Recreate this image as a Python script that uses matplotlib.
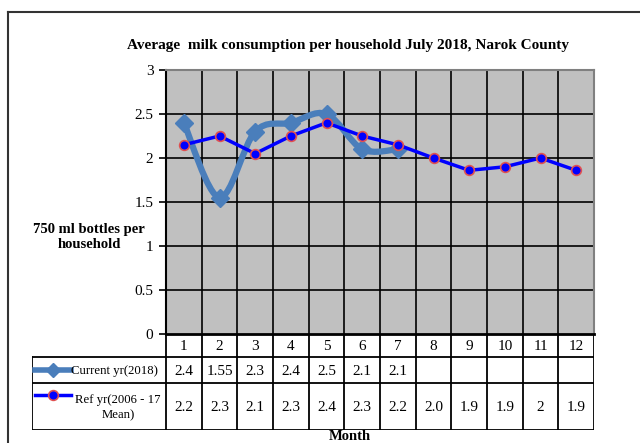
import numpy as np
import matplotlib
matplotlib.use("Agg")
import matplotlib.pyplot as plt
from matplotlib.path import Path
from matplotlib.patches import PathPatch
from matplotlib.lines import Line2D

# Data
months = list(range(1, 13))
current_vals = [2.4, 1.55, 2.3, 2.4, 2.5, 2.1, 2.1]
ref_vals = [2.15, 2.25, 2.05, 2.25, 2.4, 2.25, 2.15, 2.0, 1.86, 1.9, 2.0, 1.86]
current_labels = ["2.4", "1.55", "2.3", "2.4", "2.5", "2.1", "2.1"]
ref_labels = ["2.2", "2.3", "2.1", "2.3", "2.4", "2.3", "2.2", "2.0", "1.9", "1.9", "2", "1.9"]
yticks = [0, 0.5, 1, 1.5, 2, 2.5, 3]

title = "Average  milk consumption per household July 2018, Narok County"
ylabel = "750 ml bottles per\nhousehold"
series_names = ["Current yr(2018)", "Ref yr(2006 - 17\nMean)"]

CUR_COLOR = "#4A7EBB"
REF_COLOR = "#0000FF"
FONT = "Liberation Serif"

W, H = 640, 443
fig = plt.figure(figsize=(6.4, 4.43), dpi=100)


def fx(px):
    return px / W


def fy(py):
    return 1 - py / H


# Outer frame
fig.add_artist(Line2D([fx(8), fx(8)], [fy(12), fy(443)], color="#333333", lw=1.5))
fig.add_artist(Line2D([fx(8), fx(640)], [fy(12), fy(12)], color="#333333", lw=1.5))

# Main plot area
ax_l, ax_r, ax_t, ax_b = 166, 594, 70, 334
ax = fig.add_axes([fx(ax_l), fy(ax_b), fx(ax_r - ax_l), (ax_b - ax_t) / H])
ax.set_facecolor("#C0C0C0")
ax.set_xlim(0.5, 12.5)
ax.set_ylim(0, 3)
ax.set_yticks(yticks)
ax.set_yticklabels([f"{t:g}" for t in yticks], fontfamily=FONT, fontsize=11)
ax.set_xticks([])
for yv in yticks[1:-1]:
    ax.axhline(yv, color="black", lw=1.2, zorder=1)
for xv in np.arange(1.5, 12.5, 1):
    ax.axvline(xv, color="black", lw=1.2, zorder=1)
ax.tick_params(axis="y", length=5, width=1.2, pad=4)
for side in ["top", "right"]:
    ax.spines[side].set_color("#808080")
    ax.spines[side].set_linewidth(1.5)
ax.spines["left"].set_linewidth(1.5)
ax.spines["bottom"].set_linewidth(2)

# Smoothed current-year line (Excel-style Catmull-Rom bezier)
cx = np.array(months[:len(current_vals)], dtype=float)
cy = np.array(current_vals, dtype=float)
pts = np.column_stack([cx, cy])
ext = np.vstack([pts[0], pts, pts[-1]])
verts = [tuple(pts[0])]
codes = [Path.MOVETO]
for i in range(len(pts) - 1):
    p0, p1, p2, p3 = ext[i], ext[i + 1], ext[i + 2], ext[i + 3]
    c1 = p1 + (p2 - p0) / 6
    c2 = p2 - (p3 - p1) / 6
    verts += [tuple(c1), tuple(c2), tuple(p2)]
    codes += [Path.CURVE4] * 3
ax.add_patch(PathPatch(Path(verts, codes), fill=False, edgecolor=CUR_COLOR,
                       lw=4.5, zorder=3, capstyle="round"))
ax.plot(cx, cy, linestyle="none", marker="D", ms=9, color=CUR_COLOR, zorder=4)

# Reference line
ax.plot(months, ref_vals, color=REF_COLOR, lw=2.5, marker="o", ms=7,
        markerfacecolor=REF_COLOR, markeredgecolor="#E05050", markeredgewidth=1.2,
        zorder=5)

fig.text(fx(348), fy(45), title, ha="center", va="center", fontfamily=FONT,
         fontweight="bold", fontsize=11)
fig.text(fx(89), fy(237), ylabel, ha="center", va="center", fontfamily=FONT,
         fontweight="bold", fontsize=10.5, linespacing=1.2)

# Data table below the plot
tb_l, tb_t, tb_b = 32, 334, 430
col_w = (ax_r - ax_l) / 12
head_w = (ax_l - tb_l) / col_w
tb = fig.add_axes([fx(tb_l), fy(tb_b), fx(ax_r - tb_l), (tb_b - tb_t) / H])
tb.set_xlim(0.5 - head_w, 12.5)
tb.set_ylim(tb_b, tb_t)
tb.axis("off")
row_y = [334, 357, 383, 430]
lw = 1.3
tb.plot([0.5, 12.5], [row_y[0], row_y[0]], color="black", lw=lw)
for yv in row_y[1:]:
    tb.plot([0.5 - head_w, 12.5], [yv, yv], color="black", lw=lw)
for xv in np.arange(0.5, 13, 1):
    tb.plot([xv, xv], [row_y[0], row_y[3]], color="black", lw=lw)
tb.plot([0.5 - head_w, 0.5 - head_w], [row_y[1], row_y[3]], color="black", lw=lw)

for m in months:
    tb.text(m, (row_y[0] + row_y[1]) / 2 + 1, str(m), ha="center", va="center",
            fontfamily=FONT, fontsize=11)
for m, lab in zip(months, current_labels):
    tb.text(m, (row_y[1] + row_y[2]) / 2 + 1, lab, ha="center", va="center",
            fontfamily=FONT, fontsize=11)
for m, lab in zip(months, ref_labels):
    tb.text(m, (row_y[2] + row_y[3]) / 2 + 1, lab, ha="center", va="center",
            fontfamily=FONT, fontsize=11)

# legend keys in row headers
x0 = 0.5 - head_w
key_a, key_b = x0 + 0.08, x0 + 1.08
ycur = (row_y[1] + row_y[2]) / 2
tb.plot([key_a, key_b], [ycur, ycur], color=CUR_COLOR, lw=4)
tb.plot([(key_a + key_b) / 2], [ycur], marker="D", ms=7, color=CUR_COLOR)
tb.text(key_b + 0.02, ycur + 1, series_names[0], ha="left", va="center",
        fontfamily=FONT, fontsize=9.2)
yref = row_y[2] + 12
tb.plot([key_a, key_b], [yref, yref], color=REF_COLOR, lw=2.5)
tb.plot([(key_a + key_b) / 2], [yref], marker="o", ms=7, color=REF_COLOR,
        markeredgecolor="#E05050", markeredgewidth=1.2)
tb.text(key_b + 1.33, (row_y[2] + row_y[3]) / 2 + 1, series_names[1], ha="center",
        va="center", fontfamily=FONT, fontsize=9.2, multialignment="center",
        linespacing=1.3)

fig.text(fx(350), fy(436), "Month", ha="center", va="center", fontfamily=FONT,
         fontweight="bold", fontsize=10.5)

fig.savefig("out.png", dpi=100)
